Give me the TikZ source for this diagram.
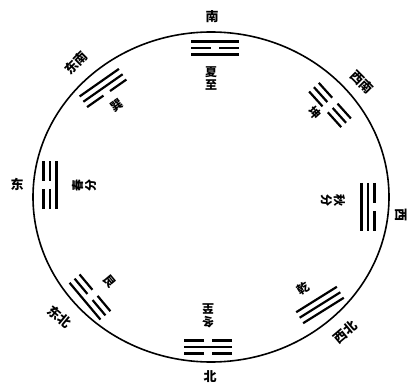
\documentclass[tikz,border=0pt]{standalone}
\usepackage{fontspec}
\setmainfont{Noto Sans CJK SC}

% one line of a trigram, at height #1
\newcommand{\yangyao}[1]{\draw[yao] (-24,#1) -- (24,#1);}
\newcommand{\yinyao}[1]{\draw[yao] (-24,#1) -- (-4,#1) (4,#1) -- (24,#1);}

\begin{document}
\begin{tikzpicture}[x=1pt, y=1pt,
    yao/.style={line width=2.2pt},
    fang/.style={font=\fontsize{13}{13}\selectfont\bfseries, inner sep=0pt},
    jie/.style={font=\fontsize{12}{13}\selectfont\bfseries, align=center, inner sep=0pt}]

    \useasboundingbox (0,0) rectangle (410,389);

    \coordinate (o) at (211,192);
    \draw[line width=1.6pt] (o) ellipse [x radius=178, y radius=165];

    % trigrams, outer line at +y
    \begin{scope}[shift={(215,341)}]
        \yangyao{6.5} \yinyao{0} \yangyao{-6.5}
    \end{scope}
    \begin{scope}[shift={(103,301)}, rotate=35]
        \yangyao{6.5} \yangyao{0} \yinyao{-6.5}
    \end{scope}
    \begin{scope}[shift={(330,284)}, rotate=-48]
        \yinyao{6.5} \yinyao{0} \yinyao{-6.5}
    \end{scope}
    \begin{scope}[shift={(50,204)}, rotate=90]
        \yinyao{6.5} \yinyao{0} \yangyao{-6.5}
    \end{scope}
    \begin{scope}[shift={(368,182)}, rotate=-90]
        \yinyao{6.5} \yangyao{0} \yangyao{-6.5}
    \end{scope}
    \begin{scope}[shift={(90,92)}, rotate=130]
        \yangyao{6.5} \yinyao{0} \yinyao{-6.5}
    \end{scope}
    \begin{scope}[shift={(320,84)}, rotate=212]
        \yangyao{6.5} \yangyao{0} \yangyao{-6.5}
    \end{scope}
    \begin{scope}[shift={(208,42)}, rotate=180]
        \yinyao{6.5} \yangyao{0} \yinyao{-6.5}
    \end{scope}

    % directions
    \node[fang] (nan) at (212,372) {南};
    \node[fang] (bei) at (210,12) {北};
    \node[fang] (dong) at (17,205) {东};
    \node[fang, rotate=-90] (xi) at (401,174) {西};
    \node[fang, rotate=45] (dongnan) at (76,326) {东南};
    \node[fang, rotate=-45] (xinan) at (362,307) {西南};
    \node[fang, rotate=-40] (dongbei) at (60,72) {东北};
    \node[fang, rotate=40] (xibei) at (345,57) {西北};

    % terms and names
    \node[jie] (xiazhi) at (211,311) {夏\\至};
    \node[jie, rotate=90] (chunfen) at (84,203) {春\\分};
    \node[jie, rotate=-90] (qiufen) at (333,188) {秋\\分};
    \node[jie, rotate=180] (dongzhi) at (208,73) {冬\\至};
    \node[jie, rotate=35] (xun) at (117,284) {巽};
    \node[jie, rotate=-48] (kun) at (315,276) {坤};
    \node[jie, rotate=-50] (gen) at (110,108) {艮};
    \node[jie, rotate=32] (qian) at (303,101) {乾};

\end{tikzpicture}
\end{document}
